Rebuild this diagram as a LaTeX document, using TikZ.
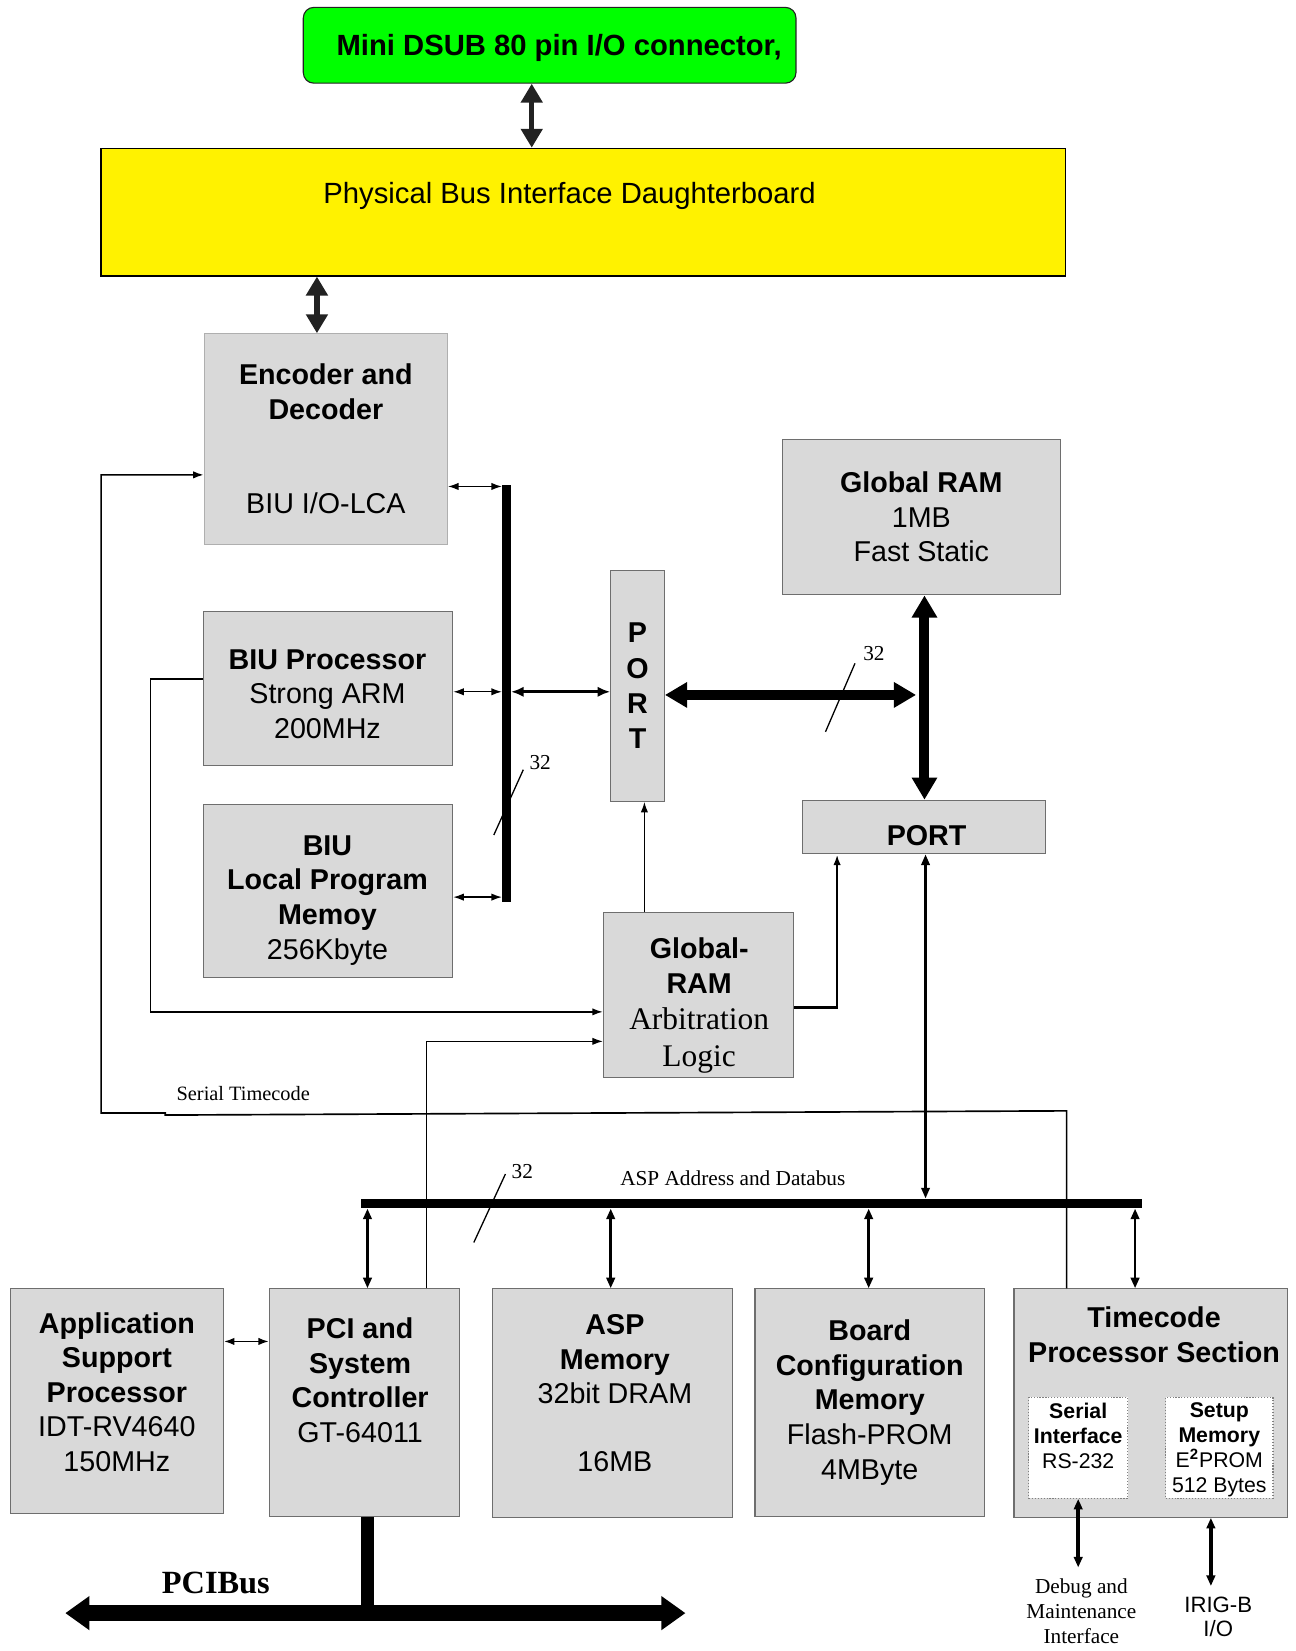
\documentclass[tikz,border=0pt]{standalone}
\usepackage{fontspec}
\setmainfont{Liberation Serif}
\setsansfont{Liberation Sans}
\usepackage{tikz}
\usetikzlibrary{arrows.meta,positioning,calc}

\definecolor{boxfill}{HTML}{D9D9D9}
\definecolor{boxline}{HTML}{6E6E6E}
\definecolor{darkarrow}{HTML}{222222}
\definecolor{dsubgreen}{HTML}{00FF00}

\tikzset{
  box/.style={draw=boxline, fill=boxfill, line width=0.6pt, align=center, inner sep=0pt, font=\sffamily\fontsize{15.5}{18.7}\selectfont},
  boxtext/.style={align=center, inner sep=0pt, font=\sffamily\fontsize{15.5}{18.7}\selectfont},
  innerbox/.style={draw=gray, densely dotted, fill=white, line width=0.6pt, align=center, inner sep=0pt, font=\sffamily\fontsize{11.5}{13.6}\selectfont},
  innertext/.style={align=center, inner sep=0pt, font=\sffamily\fontsize{11.5}{13.6}\selectfont},
  smalltext/.style={align=center, inner sep=0pt, font=\rmfamily\fontsize{11.5}{13.6}\selectfont},
  bus/.style={fill=black, inner sep=0pt},
  fatarrow/.style={draw=darkarrow, line width=0.1cm, {Triangle[width=0.4cm,length=0.36cm]}-{Triangle[width=0.4cm,length=0.36cm]}},
  bigarrow/.style={line width=0.19cm, {Triangle[width=0.46cm,length=0.42cm]}-{Triangle[width=0.46cm,length=0.42cm]}},
  pcibus/.style={line width=0.3cm, {Triangle[width=0.62cm,length=0.46cm]}-{Triangle[width=0.62cm,length=0.46cm]}},
  smallarrow/.style={line width=0.7pt, {Latex[length=0.2cm,width=0.14cm]}-{Latex[length=0.2cm,width=0.14cm]}},
  droparrow/.style={line width=1.4pt, {Triangle[length=0.2cm,width=0.16cm]}-{Triangle[length=0.2cm,width=0.16cm]}},
  feed/.style={line width=0.8pt, -{Latex[length=0.2cm,width=0.14cm]}},
  tick/.style={line width=0.7pt},
}

\begin{document}
\begin{tikzpicture}[x=0.02cm, y=-0.02cm]
\useasboundingbox (0,0) rectangle (1230,1568);

% connector and daughterboard
\node (dsub) [draw=darkarrow, fill=dsubgreen, rounded corners=0.2cm, line width=0.6pt, minimum width=9.36cm, minimum height=1.44cm] at (522,43) {};
\node (dsub-t) [inner sep=0pt, font=\sffamily\bfseries\fontsize{15.8}{19}\selectfont] at (531,46) {Mini DSUB 80 pin I/O connector,};
\node (daughter) [draw=black, fill=yellow, line width=0.8pt, minimum width=18.32cm, minimum height=2.42cm] at (554,201.5) {};
\node (daughter-t) [boxtext, font=\sffamily\fontsize{15.8}{19}\selectfont] at (541,186) {Physical Bus Interface Daughterboard};

% BIU side
\node (enc) [box, draw=boxline!55, minimum width=4.62cm, minimum height=4cm] at (309.5,417) {{\bfseries Encoder and}\\{\bfseries Decoder}\\[1.13cm]BIU I/O-LCA};
\node (biuproc) [box, minimum width=4.74cm, minimum height=2.92cm] at (311.5,654) {};
\node (biuproc-t) [boxtext] at (311,659) {{\bfseries BIU Processor}\\Strong ARM\\200MHz};
\node (biumem) [box, minimum width=4.74cm, minimum height=3.28cm] at (311.5,846) {};
\node (biumem-t) [boxtext] at (311,855) {{\bfseries BIU}\\{\bfseries Local Program}\\{\bfseries Memoy}\\256Kbyte};
\node (vbus) [bus, minimum width=0.16cm, minimum height=7.92cm] at (481,659) {};
\node (portv) [box, font=\sffamily\bfseries\fontsize{15.5}{19.1}\selectfont, minimum width=1.02cm, minimum height=4.38cm] at (605.5,651.5) {P\\O\\R\\T};

% global RAM
\node (gram) [box, minimum width=5.28cm, minimum height=2.96cm] at (875,491) {{\bfseries Global RAM}\\1MB\\Fast Static};
\node (porth) [box, minimum width=4.62cm, minimum height=1.02cm] at (877.5,785.5) {};
\node (porth-t) [boxtext, font=\sffamily\bfseries\fontsize{15.5}{18.7}\selectfont] at (880,794) {PORT};
\node (arb) [box, minimum width=3.62cm, minimum height=3.12cm] at (663.5,945) {};
\node (arb-t) [boxtext] at (664,955) {{\bfseries Global-}\\{\bfseries RAM}\\[0.04cm]{\rmfamily\fontsize{17}{20}\selectfont Arbitration}\\[0.04cm]{\rmfamily\fontsize{17}{20}\selectfont Logic}};
\coordinate (gjoin) at (870,660);

% ASP bus and boards
\node (aspbus) [bus, minimum width=14.84cm, minimum height=0.18cm] at (714,1143) {};
\node (asp) [box, minimum width=4.04cm, minimum height=4.26cm] at (111,1330.5) {};
\node (asp-t) [boxtext] at (111,1322) {{\bfseries Application}\\{\bfseries Support}\\{\bfseries Processor}\\IDT-RV4640\\150MHz};
\node (pci) [box, minimum width=3.6cm, minimum height=4.32cm] at (346,1332) {};
\node (pci-t) [boxtext] at (342,1311) {{\bfseries PCI and}\\{\bfseries System}\\{\bfseries Controller}\\GT-64011};
\node (aspmem) [box, minimum width=4.56cm, minimum height=4.34cm] at (582,1332.5) {};
\node (aspmem-t) [boxtext] at (584,1323) {{\bfseries ASP}\\{\bfseries Memory}\\32bit DRAM\\[0.62cm]16MB};
\node (boardcfg) [box, minimum width=4.36cm, minimum height=4.32cm] at (826,1332) {{\bfseries Board}\\{\bfseries Configuration}\\{\bfseries Memory}\\Flash-PROM\\4MByte};
\node (tcode) [box, minimum width=5.2cm, minimum height=4.34cm] at (1093,1332.5) {};
\node (tcode-t) [boxtext, font=\sffamily\bfseries\fontsize{15.5}{18.7}\selectfont] at (1096,1267.5) {Timecode\\Processor Section};
\node (serial) [innerbox, minimum width=1.88cm, minimum height=1.92cm] at (1024,1375) {};
\node (serial-t) [innertext] at (1024,1364) {{\bfseries Serial}\\{\bfseries Interface}\\RS-232};
\node (setup) [innerbox, minimum width=2.04cm, minimum height=1.92cm] at (1158,1375) {};
\node (setup-t) [innertext] at (1158,1377) {{\bfseries Setup}\\{\bfseries Memory}\\E\textsuperscript{\bfseries 2}PROM\\512 Bytes};

% labels
\node (dbg) [smalltext] at (1027,1530) {Debug and\\Maintenance\\Interface};
\node (irig) [align=center, inner sep=0pt, font=\sffamily\fontsize{12}{13}\selectfont] at (1157,1535.5) {IRIG-B\\I/O};
\node (st-lbl) [smalltext, font=\rmfamily\fontsize{11}{13}\selectfont] at (231,1039) {Serial Timecode};
\node (aspbus-lbl) [smalltext] at (696,1119) {ASP Address and Databus};
\node (pcibus-lbl) [inner sep=0pt, font=\rmfamily\bfseries\fontsize{17.5}{20}\selectfont] at (205,1503) {PCIBus};
\node (w32a) [smalltext] at (513,724) {32};
\node (w32b) [smalltext] at (830,621) {32};
\node (w32c) [smalltext] at (496,1113) {32};
\coordinate (pcil) at (62,1532);
\coordinate (pcir) at (651,1532);

% connectors
\draw[fatarrow] (505,0 |- dsub.south) -- (505,0 |- daughter.north);
\draw[fatarrow] (301,0 |- daughter.south) -- (301,0 |- enc.north);
\draw[smallarrow] (enc.east |- 0,462) -- (vbus.west |- 0,462);
\draw[smallarrow] (biuproc.east |- 0,657) -- (vbus.west |- 0,657);
\draw[smallarrow] (biumem.east |- 0,852) -- (vbus.west |- 0,852);
\draw[line width=1.6pt, {Latex[length=0.24cm,width=0.2cm]}-{Latex[length=0.24cm,width=0.2cm]}] (vbus.east |- 0,657) -- (portv.west |- 0,657);
\draw[bigarrow] (portv.east |- 0,660) -- (gjoin);
\draw[bigarrow] (878,0 |- gram.south) -- (878,0 |- porth.north);
\draw[feed] (612,0 |- arb.north) -- (612,0 |- portv.south);
\draw[feed, line width=1.4pt] (arb.east |- 0,957) -| (795,0 |- porth.south);
\draw[droparrow, line width=1.2pt] (879,0 |- porth.south) -- (879,0 |- aspbus.north);
\draw[feed] (biuproc.west |- 0,645) -- (143,645) |- (arb.west |- 0,961);
\draw[feed, line width=0.6pt] (405,0 |- pci.north) |- (arb.west |- 0,989);
\draw[feed, line width=0.9pt] (1013,0 |- tcode.north) -- (1013,1055) -- (157,1059) -- (157,1057) -- (96,1057) |- (enc.west |- 0,451);
\foreach \xx/\nd in {349/pci, 580/aspmem, 825/boardcfg, 1078/tcode}
  \draw[droparrow] (\xx,0 |- aspbus.south) -- (\xx,0 |- \nd.north);
\draw[smallarrow, line width=1pt] (asp.east |- 0,1274) -- (pci.west |- 0,1274);
\draw[droparrow, line width=2pt, shorten >=0.2cm] (serial.south) -- (serial.south |- dbg.north);
\draw[droparrow, line width=2pt, shorten >=0.2cm] (1150,0 |- tcode.south) -- (1150,0 |- irig.north);
\draw[line width=0.24cm] (349,0 |- pci.south) -- (349,0 |- pcil);
\draw[pcibus] (pcil) -- (pcir);

% bus width marks
\draw[tick] (469,793) -- (497,731);
\draw[tick] (784,695) -- (812,630);
\draw[tick] (450,1180) -- (480,1115);
\end{tikzpicture}
\end{document}
